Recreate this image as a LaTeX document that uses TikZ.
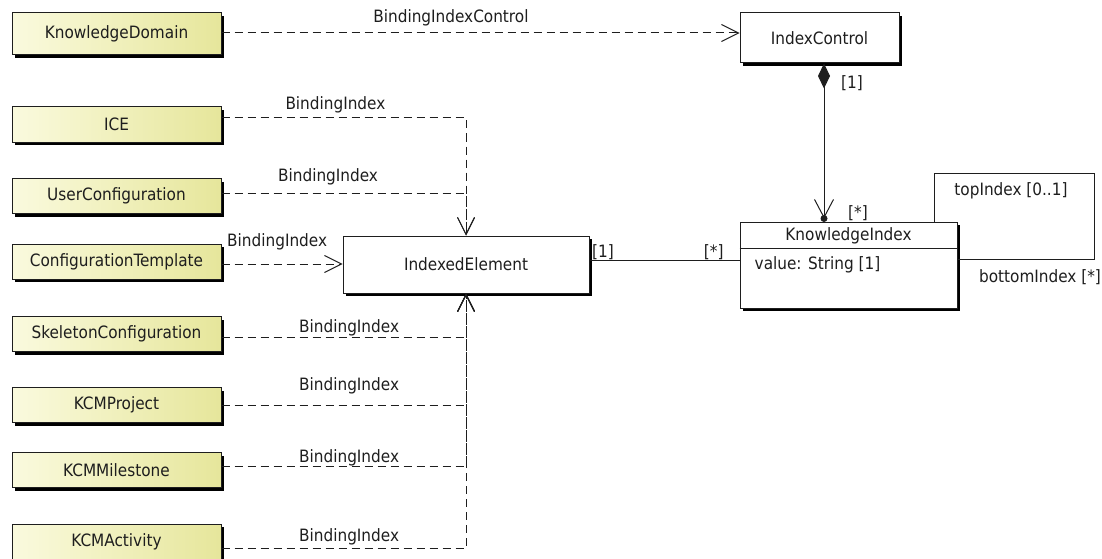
\documentclass[tikz,border=0pt]{standalone}
\usepackage{fontspec}
\setmainfont{DejaVu Sans Condensed}
\usetikzlibrary{arrows.meta,shadows,calc}
\definecolor{ylA}{RGB}{250,250,222}
\definecolor{ylB}{RGB}{230,230,155}
\definecolor{ink}{RGB}{30,30,30}
\tikzset{
  cls/.style={draw=ink, line width=1pt, fill=white, text=ink, inner sep=0pt,
    drop shadow={shadow xshift=3pt, shadow yshift=-3pt, opacity=1, fill=black}},
  ycls/.style={cls, left color=ylA, right color=ylB, minimum width=209pt, minimum height=35pt},
  dep/.style={ink, line width=1pt, dash pattern=on 8pt off 5pt,
    -{Straight Barb[length=17pt,width=17pt,line width=1pt]}},
  lbl/.style={text=ink, inner sep=1pt},
  every node/.style={font=\fontsize{17}{20}\selectfont}
}
\begin{document}
\begin{tikzpicture}[x=1pt,y=-1pt]
\path[use as bounding box] (0,0) rectangle (1102,559);
% left classes
\node[ycls, minimum height=42pt] (kd) at (116.5,34) {KnowledgeDomain};
\node[ycls] (ice) at (116.5,124.5) {ICE};
\node[ycls] (uc) at (116.5,196) {UserConfiguration};
\node[ycls] (ct) at (116.5,261.5) {ConfigurationTemplate};
\node[ycls] (sc) at (116.5,334) {SkeletonConfiguration};
\node[ycls] (kp) at (116.5,405) {KCMProject};
\node[ycls] (km) at (116.5,470) {KCMMilestone};
\node[ycls] (ka) at (116.5,541.5) {KCMActivity};
% main classes
\node[cls, minimum width=159pt, minimum height=50pt] (ic) at (819.5,38) {IndexControl};
\node[cls, minimum width=246pt, minimum height=57pt] (ie) at (466,264.5) {IndexedElement};
\node[cls, minimum width=217pt, minimum height=86pt] (ki) at (848.5,265) {};
\node[lbl] (kit) at ([yshift=-14pt]ki.north) {KnowledgeIndex};
\draw[ink, line width=1pt] ([yshift=-27pt]ki.north west) -- ([yshift=-27pt]ki.north east);
\node[lbl, anchor=west] (kia) at ([xshift=14pt,yshift=-43pt]ki.north west) {value: String [1]};
% dependency: KnowledgeDomain -> IndexControl
\coordinate (d0) at ([yshift=1pt]kd.east);
\draw[dep] (d0) -- (d0 -| ic.west) node[lbl, pos=.443, yshift=15pt] (l0) {BindingIndexControl};
% dependencies into IndexedElement
\draw[dep] ([yshift=6.5pt]ice.east) -| (ie.north) node[lbl, pos=.233, yshift=13pt] (l1) {BindingIndex};
\draw[dep] ([yshift=3pt]uc.east) -| (ie.north) node[lbl, pos=.218, yshift=16pt] (l2) {BindingIndex};
\coordinate (d3) at ([yshift=-2.5pt]ct.east);
\draw[dep] (d3) -- (d3 -| ie.west) node[lbl, pos=.46, yshift=22pt] (l3) {BindingIndex};
\draw[dep] ([yshift=-3pt]sc.east) -| (ie.south) node[lbl, pos=.261, yshift=9pt] (l4) {BindingIndex};
\draw[dep] (kp.east) -| (ie.south) node[lbl, pos=.261, yshift=19pt] (l5) {BindingIndex};
\draw[dep] ([yshift=4pt]km.east) -| (ie.south) node[lbl, pos=.261, yshift=8pt] (l6) {BindingIndex};
\draw[dep] ([yshift=-6.5pt]ka.east) -| (ie.south) node[lbl, pos=.261, yshift=11pt] (l7) {BindingIndex};
% association IndexedElement -- KnowledgeIndex
\coordinate (a1) at ([yshift=4.5pt]ie.east);
\draw[ink, line width=1pt] (a1) -- (a1 -| ki.west)
  node[lbl, pos=.09, yshift=8pt] (m1) {[1]}
  node[lbl, pos=.828, yshift=8pt] (m2) {[*]};
% composition IndexControl -> KnowledgeIndex
\coordinate (c1) at ([xshift=4.5pt]ic.south);
\coordinate (c2) at (c1 |- ki.north);
\draw[ink, line width=1pt, shorten >=3pt,
  {Diamond[length=25pt,width=12pt]}-{Straight Barb[length=18pt,width=19pt,line width=1pt]}] (c1) -- (c2);
\fill[ink] ([yshift=3pt]c2) circle (3.5pt);
\node[lbl] (m3) at (852,83) {[1]};
\node[lbl] (m4) at (858,213) {[*]};
% self association
\coordinate (s1) at ([xshift=-23pt]ki.north east);
\coordinate (s2) at (1094,173);
\coordinate (s3) at ([yshift=6pt]ki.east);
\draw[ink, line width=1pt] (s1) |- (s2) |- (s3);
\node[lbl] (m5) at (1011,191) {topIndex [0..1]};
\node[lbl] (m6) at (1040,277) {bottomIndex [*]};
\end{tikzpicture}
\end{document}
